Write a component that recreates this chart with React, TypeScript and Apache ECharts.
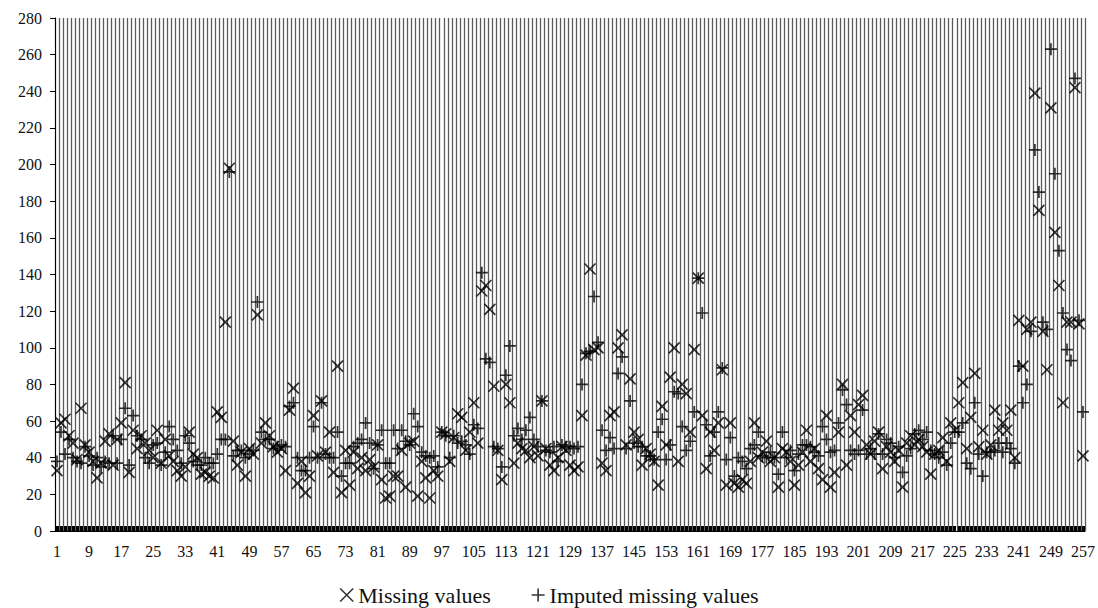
import React, { useEffect, useRef } from "react";
import * as echarts from "echarts";

const categories: string[] = Array.from({ length: 257 }, (_, i) => String(i + 1));

const yTicks = { min: 0, max: 280, interval: 20 };

const missingValues: number[] = [
  33, 59, 61, 52, 48, 39, 67, 47, 43, 38,
  29, 37, 49, 53, 36, 50, 59, 81, 32, 55,
  45, 52, 48, 44, 40, 55, 37, 50, 41, 38,
  33, 30, 35, 54, 42, 40, 31, 32, 30, 29,
  65, 62, 114, 198, 49, 36, 43, 30, 45, 42,
  118, 48, 59, 52, 46, 43, 45, 33, 66, 78,
  26, 38, 21, 30, 63, 41, 71, 43, 54, 32,
  90, 21, 44, 25, 43, 34, 40, 33, 39, 35,
  47, 28, 18, 19, 30, 30, 44, 24, 48, 49,
  19, 38, 29, 18, 33, 30, 54, 53, 38, 51,
  64, 62, 44, 54, 70, 48, 131, 134, 121, 79,
  44, 28, 80, 70, 37, 48, 45, 44, 40, 46,
  41, 71, 45, 36, 33, 40, 46, 44, 36, 33,
  35, 63, 96, 143, 99, 100, 37, 33, 63, 65,
  100, 107, 47, 83, 54, 50, 36, 45, 42, 38,
  25, 68, 47, 84, 100, 38, 80, 75, 54, 99,
  138, 63, 34, 54, 44, 59, 88, 25, 59, 26,
  24, 28, 26, 38, 59, 40, 43, 49, 38, 40,
  24, 45, 43, 38, 25, 36, 43, 55, 38, 45,
  34, 28, 63, 24, 32, 54, 80, 36, 63, 54,
  69, 74, 47, 42, 49, 54, 34, 46, 43, 38,
  44, 24, 48, 52, 47, 50, 46, 43, 31, 42,
  44, 51, 38, 59, 55, 70, 81, 45, 62, 86,
  46, 55, 42, 47, 66, 55, 59, 55, 66, 40,
  115, 90, 110, 114, 239, 175, 109, 88, 231, 163,
  134, 70, 114, 114, 242, 113, 41,
];

const imputedValues: number[] = [
  38, 54, 42, 50, 40, 38, 37, 46, 41, 36,
  40, 35, 38, 37, 52, 37, 50, 67, 36, 63,
  52, 50, 40, 37, 47, 48, 36, 43, 57, 50,
  44, 37, 52, 48, 38, 36, 36, 40, 37, 37,
  42, 50, 50, 196, 41, 44, 44, 40, 42, 44,
  125, 54, 50, 50, 45, 46, 47, 46, 68, 70,
  40, 33, 33, 40, 57, 40, 70, 42, 40, 40,
  54, 30, 37, 37, 46, 48, 50, 59, 48, 34,
  47, 55, 37, 37, 55, 45, 55, 49, 47, 64,
  57, 43, 41, 40, 41, 35, 54, 52, 40, 52,
  48, 49, 47, 42, 58, 56, 141, 94, 92, 46,
  45, 35, 85, 101, 52, 56, 50, 55, 62, 50,
  46, 71, 44, 43, 46, 38, 47, 46, 46, 45,
  46, 80, 97, 98, 128, 103, 55, 44, 51, 45,
  86, 95, 45, 71, 48, 46, 46, 41, 41, 39,
  54, 61, 39, 47, 76, 75, 57, 44, 49, 65,
  138, 119, 58, 41, 54, 65, 89, 39, 51, 30,
  40, 38, 34, 45, 47, 54, 41, 40, 43, 40,
  31, 54, 40, 44, 33, 42, 47, 47, 46, 43,
  41, 57, 50, 43, 44, 59, 77, 69, 44, 42,
  44, 66, 42, 45, 42, 53, 42, 50, 48, 40,
  46, 32, 41, 45, 53, 55, 50, 54, 44, 42,
  40, 43, 36, 48, 54, 54, 59, 37, 34, 70,
  42, 30, 43, 43, 44, 48, 43, 48, 45, 37,
  90, 70, 80, 109, 208, 185, 114, 110, 263, 195,
  153, 119, 99, 93, 247, 115, 65,
];

const seriesNames = ["Missing values", "Imputed missing values"];

const CROSS = "path://M0,0L10,10M10,0L0,10";
const PLUS = "path://M5,0L5,10M0,5L10,5";
const FONT = "'Liberation Serif', 'Times New Roman', serif";

export default function App() {
  const ref = useRef<HTMLDivElement>(null);

  useEffect(() => {
    if (!ref.current) return;
    const chart = echarts.init(ref.current, undefined, { renderer: "svg" });
    const markerStyle = { color: "#000", borderColor: "#000", borderWidth: 1.7 };
    chart.setOption({
      animation: false,
      backgroundColor: "#fff",
      textStyle: { fontFamily: FONT },
      grid: { left: 55, right: 13, top: 18, bottom: 77, containLabel: false },
      legend: {
        top: 579,
        left: "center",
        itemGap: 40,
        itemWidth: 13,
        itemHeight: 13,
        textStyle: { fontFamily: FONT, fontSize: 22, color: "#111" },
        data: [
          { name: seriesNames[0], icon: CROSS },
          { name: seriesNames[1], icon: PLUS },
        ],
        itemStyle: { color: "#000", borderColor: "#000", borderWidth: 1.6 },
      },
      xAxis: {
        type: "category",
        data: categories,
        boundaryGap: true,
        axisLine: { show: true, lineStyle: { color: "#000", width: 1 } },
        axisTick: {
          show: true,
          inside: true,
          length: 5,
          interval: 0,
          alignWithLabel: true,
          lineStyle: { color: "#000", width: 3 },
        },
        axisLabel: {
          interval: 7,
          margin: 12,
          fontFamily: FONT,
          fontSize: 16,
          color: "#111",
        },
        splitLine: {
          show: true,
          interval: 0,
          lineStyle: { color: "#5a5a5a", width: 1.3 },
        },
      },
      yAxis: {
        type: "value",
        min: yTicks.min,
        max: yTicks.max,
        interval: yTicks.interval,
        axisLine: { show: true, lineStyle: { color: "#000", width: 1 } },
        axisTick: { show: true, length: 5, lineStyle: { color: "#000" } },
        axisLabel: { margin: 13, fontFamily: FONT, fontSize: 16, color: "#111" },
        splitLine: { show: false },
      },
      series: [
        {
          name: seriesNames[0],
          type: "scatter",
          data: missingValues,
          symbol: CROSS,
          symbolSize: 11,
          itemStyle: markerStyle,
          z: 3,
        },
        {
          name: seriesNames[1],
          type: "scatter",
          data: imputedValues,
          symbol: PLUS,
          symbolSize: 12,
          itemStyle: markerStyle,
          z: 4,
        },
      ],
    });
    return () => chart.dispose();
  }, []);

  return (
    <div
      ref={ref}
      style={{ position: "absolute", left: 0, top: 0, width: 1098, height: 608 }}
    />
  );
}
